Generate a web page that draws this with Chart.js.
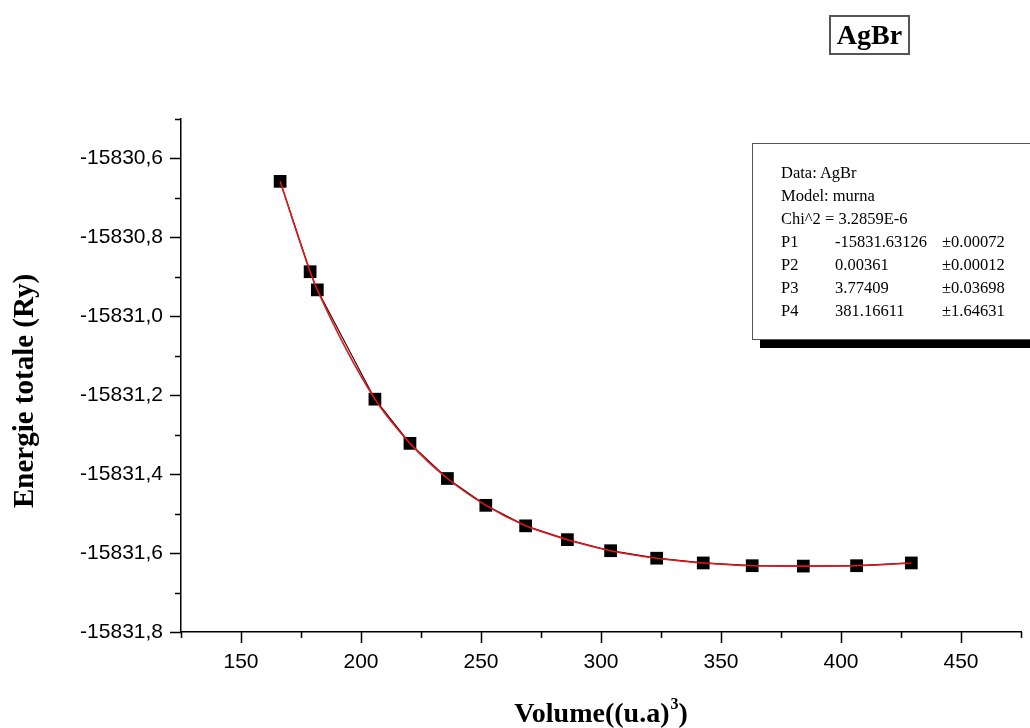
<!DOCTYPE html>
<html>
<head>
<meta charset="utf-8">
<script src="https://cdn.jsdelivr.net/npm/chart.js@4.4.1/dist/chart.umd.min.js"></script>
<style>
  html, body { margin: 0; padding: 0; background: #fff; overflow: hidden; }
  #wrap { position: relative; width: 1030px; height: 728px; }
  #title-box {
    position: absolute; left: 829px; top: 15px; width: 77px; height: 36px;
    border: 2px solid #555; font: bold 28px "Liberation Serif", serif;
    text-align: center; line-height: 36px; color: #000;
  }
  #fit-box {
    position: absolute; left: 752px; top: 143px; width: 300px; height: 197px;
    border: 1px solid #555; background: #fff; box-shadow: 8px 8px 0 #000;
    font: 16.5px "Liberation Serif", serif; color: #000;
    padding: 17px 0 0 28px; box-sizing: border-box; line-height: 23px;
  }
  #fit-box span { display: inline-block; }
  .c1 { width: 54px; }
  .c2 { width: 107px; }
</style>
</head>
<body>
<div id="wrap">
  <canvas id="murnaghan"></canvas>
  <div id="title-box">AgBr</div>
  <div id="fit-box">
    <div>Data: AgBr</div>
    <div>Model: murna</div>
    <div>Chi^2 = 3.2859E-6</div>
    <div><span class="c1">P1</span><span class="c2">-15831.63126</span><span>±0.00072</span></div>
    <div><span class="c1">P2</span><span class="c2">0.00361</span><span>±0.00012</span></div>
    <div><span class="c1">P3</span><span class="c2">3.77409</span><span>±0.03698</span></div>
    <div><span class="c1">P4</span><span class="c2">381.16611</span><span>±1.64631</span></div>
  </div>
</div>
<script>
// volume (u.a)^3 and total energy (Ry)
const volumes = [166.3, 178.8, 181.8, 205.8, 220.4, 236.0, 252.0, 268.6,
                 286.0, 304.0, 323.2, 342.6, 363.0, 384.3, 406.5, 429.3];
const energies = [-15830.658, -15830.887, -15830.933, -15831.210, -15831.322,
                  -15831.411, -15831.479, -15831.531, -15831.566, -15831.594,
                  -15831.613, -15831.625, -15831.632, -15831.633, -15831.632,
                  -15831.625];

const xTitle = ["Volume((u.a)", "3", ")"];
const yTitle = "Energie totale (Ry)";

const points = [];
for (let i = 0; i < volumes.length; i++) {
  points.push({ x: volumes[i], y: energies[i] });
}

// Origin style ticks: long for labelled ones, short in between, plus axis titles
const axisDecor = {
  id: "axisDecor",
  afterDraw(chart) {
    const ctx = chart.ctx;
    const xs = chart.scales.x;
    const ys = chart.scales.y;
    ctx.save();
    ctx.strokeStyle = "#000";
    ctx.lineWidth = 1.5;
    ctx.beginPath();
    xs.ticks.forEach(function (t) {
      const px = Math.round(xs.getPixelForValue(t.value)) + 0.5;
      const len = Math.round(t.value) % 50 === 0 ? 11 : 6;
      ctx.moveTo(px, xs.top);
      ctx.lineTo(px, xs.top + len);
    });
    ys.ticks.forEach(function (t) {
      const py = Math.round(ys.getPixelForValue(t.value)) + 0.5;
      const len = Math.abs(Math.round(t.value * 10)) % 2 === 0 ? 11 : 6;
      ctx.moveTo(ys.right, py);
      ctx.lineTo(ys.right - len, py);
    });
    ctx.stroke();

    // x title with a raised small "3"
    ctx.fillStyle = "#000";
    ctx.textBaseline = "alphabetic";
    ctx.textAlign = "left";
    const big = "bold 28px 'Liberation Serif', serif";
    const small = "bold 16px 'Liberation Serif', serif";
    ctx.font = big;
    const w1 = ctx.measureText(xTitle[0]).width;
    const w3 = ctx.measureText(xTitle[2]).width;
    ctx.font = small;
    const w2 = ctx.measureText(xTitle[1]).width + 1;
    let x0 = (chart.chartArea.left + chart.chartArea.right) / 2 - (w1 + w2 + w3) / 2;
    ctx.font = big;
    ctx.fillText(xTitle[0], x0, 722);
    ctx.font = small;
    ctx.fillText(xTitle[1], x0 + w1 + 1, 709);
    ctx.font = big;
    ctx.fillText(xTitle[2], x0 + w1 + w2, 722);

    ctx.textAlign = "center";
    ctx.translate(33, 391);
    ctx.rotate(-Math.PI / 2);
    ctx.font = "bold 29px 'Liberation Serif', serif";
    ctx.fillText(yTitle, 0, 0);
    ctx.restore();
  }
};

const ctx = document.getElementById("murnaghan").getContext("2d");
new Chart(ctx, {
  type: "scatter",
  data: {
    datasets: [
      {
        label: "fit",
        data: points,
        showLine: true,
        borderColor: "#e8141b",
        borderWidth: 1.6,
        pointRadius: 0,
        cubicInterpolationMode: "monotone",
      },
      {
        label: "AgBr",
        data: points,
        showLine: true,
        borderColor: "#111",
        borderWidth: 1.2,
        pointStyle: "rect",
        pointRadius: 9,
        pointBackgroundColor: "#000",
        pointBorderColor: "#000",
        pointBorderWidth: 0,
      },
    ],
  },
  options: {
    responsive: true,
    maintainAspectRatio: false,
    animation: false,
    layout: { padding: { top: 119, right: 6, left: 0, bottom: 0 } },
    plugins: {
      legend: { display: false },
      tooltip: { enabled: false },
    },
    scales: {
      x: {
        type: "linear",
        min: 125,
        max: 475,
        afterFit: function (scale) { scale.height = 96; },
        border: { display: true, color: "#000", width: 1.5 },
        grid: { display: false, drawTicks: true, tickLength: 10 },
        ticks: {
          stepSize: 25,
          padding: 8,
          color: "#000",
          font: { family: "'Liberation Sans', Arial, sans-serif", size: 21 },
          maxRotation: 0,
          autoSkip: false,
          callback: function (value) {
            return Math.round(value) % 50 === 0 ? String(Math.round(value)) : "";
          },
        },
      },
      y: {
        type: "linear",
        min: -15831.8,
        max: -15830.5,
        afterFit: function (scale) { scale.width = 181; },
        border: { display: true, color: "#000", width: 1.5 },
        grid: { display: false, drawTicks: true, tickLength: 10 },
        ticks: {
          stepSize: 0.1,
          padding: 8,
          color: "#000",
          font: { family: "'Liberation Sans', Arial, sans-serif", size: 21 },
          autoSkip: false,
          callback: function (value) {
            const v = Math.round(value * 10);
            if (Math.abs(v) % 2 !== 0) return "";
            return (v / 10).toFixed(1).replace(".", ",");
          },
        },
      },
    },
  },
  plugins: [axisDecor],
});
</script>
</body>
</html>
